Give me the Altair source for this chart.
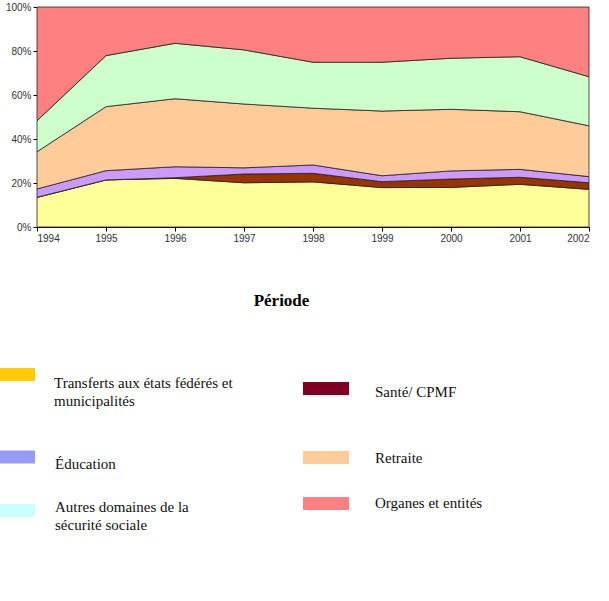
import altair as alt
import pandas as pd

years = [1994, 1995, 1996, 1997, 1998, 1999, 2000, 2001, 2002]
series = [
    "Transferts aux états fédérés et municipalités",
    "Santé/ CPMF",
    "Éducation",
    "Retraite",
    "Autres domaines de la sécurité sociale",
    "Organes et entités",
]
transferts = [13.5, 21.4, 22.1, 20.1, 20.5, 17.9, 18.0, 19.4, 17.1]
sante = [0.0, 0.0, 0.3, 4.0, 3.9, 2.7, 3.8, 3.2, 3.0]
education = [3.8, 4.2, 5.0, 2.8, 3.8, 2.7, 3.7, 3.6, 2.8]
retraite = [16.9, 29.1, 30.9, 29.0, 25.8, 29.4, 28.0, 26.2, 23.1]
autres = [14.1, 23.2, 25.2, 24.6, 20.9, 22.2, 23.2, 25.0, 22.3]
organes = [51.7, 22.1, 16.5, 19.5, 25.1, 25.1, 23.3, 22.6, 31.7]
area_colors = ["#FFFF99", "#993300", "#CC99FF", "#FFCC99", "#CCFFCC", "#FF8080"]

legend_labels = [
    "Transferts aux états fédérés et\nmunicipalités",
    "Santé/ CPMF",
    "Éducation",
    "Retraite",
    "Autres domaines de la\nsécurité sociale",
    "Organes et entités",
]
legend_colors = ["#FFCC00", "#800020", "#9999FF", "#FFCC99", "#CCFFFF", "#FF8080"]
legend_col = [0, 1, 0, 1, 0, 1]

values = [transferts, sante, education, retraite, autres, organes]
rows = []
for i, (name, vals) in enumerate(zip(series, values)):
    for y, v in zip(years, vals):
        rows.append({"year": y, "series": name, "value": v, "order": i})
df = pd.DataFrame(rows)

leg_df = pd.DataFrame({
    "label": legend_labels,
    "color": legend_colors,
    "col": legend_col,
    "slot": list(range(len(legend_labels))),
})

area = alt.Chart(df).mark_area(stroke="#222", strokeWidth=0.8, opacity=1).encode(
    x=alt.X("year:Q",
            scale=alt.Scale(domain=[1994, 2002], nice=False, zero=False),
            axis=alt.Axis(values=years, format="d", title="Période", grid=False,
                          titleFont="Liberation Serif", titleFontSize=17, titleFontWeight="bold",
                          titleColor="black", titleX=244, titleY=73, titleAlign="center",
                          titleBaseline="middle")),
    y=alt.Y("value:Q", stack="normalize",
            scale=alt.Scale(domain=[0, 1], nice=False),
            axis=alt.Axis(values=[0, 0.2, 0.4, 0.6, 0.8, 1.0], format=".0%", title=None, grid=False)),
    color=alt.Color("series:N", scale=alt.Scale(domain=series, range=area_colors), legend=None),
    order=alt.Order("order:Q"),
)

rects = alt.Chart(leg_df).mark_rect(width=46, height=13).encode(
    x=alt.X("col:Q", scale=alt.Scale(domain=[0, 1], range=[-25, 289]), axis=None),
    y=alt.Y("slot:Q", scale=alt.Scale(domain=[0, 1, 2, 3, 4, 5],
                                      range=[367.5, 381.5, 450, 450.5, 503.5, 496.5]), axis=None),
    color=alt.Color("color:N", scale=None),
)

texts = alt.Chart(leg_df).mark_text(align="left", baseline="middle", font="Liberation Serif",
                                     fontSize=15, lineBreak="\n", lineHeight=18, color="#111").encode(
    x=alt.X("slot:Q", scale=alt.Scale(domain=[0, 1, 2, 3, 4, 5],
                                      range=[17, 338, 18, 338, 18, 338]), axis=None),
    y=alt.Y("slot:Q", scale=alt.Scale(domain=[0, 1, 2, 3, 4, 5],
                                      range=[376, 385, 457, 451, 500, 496]), axis=None),
    text="label:N",
)

chart = alt.layer(area, rects, texts).resolve_scale(
    x="independent", y="independent", color="independent"
).properties(
    width=552, height=220,
    padding={"left": 37, "top": 7, "right": 20, "bottom": 374},
    autosize="none",
).configure_view(strokeWidth=0).configure_axis(
    labelFont="Liberation Sans", labelFontSize=10, labelColor="#333",
    tickColor="black", domainColor="black", tickSize=4, domainWidth=1, tickWidth=1,
)

chart.save("out.html", embed_options={"renderer": "svg", "actions": False})
